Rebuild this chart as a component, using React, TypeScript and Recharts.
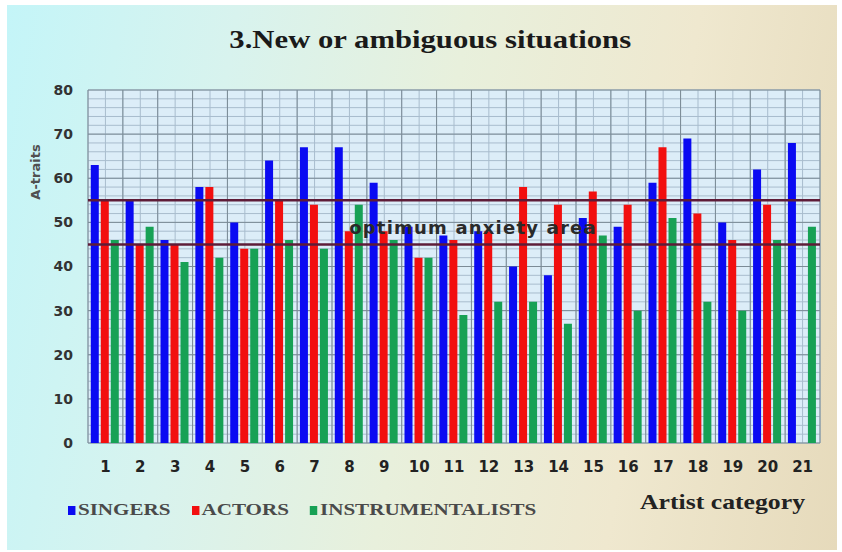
import React from 'react';
import { BarChart, Bar, XAxis, YAxis, CartesianGrid, ReferenceLine, Legend } from 'recharts';

const categories = ['1','2','3','4','5','6','7','8','9','10','11','12','13','14','15','16','17','18','19','20','21'];
const singers = [63, 55, 46, 58, 50, 64, 67, 67, 59, 49, 47, 48, 40, 38, 51, 49, 59, 69, 50, 62, 68];
const actors = [55, 45, 45, 58, 44, 55, 54, 48, 48, 42, 46, 48, 58, 54, 57, 54, 67, 52, 46, 54, null];
const instrumentalists = [46, 49, 41, 42, 44, 46, 44, 54, 46, 42, 29, 32, 32, 27, 47, 30, 51, 32, 30, 46, 49];
const yTicks = [0, 10, 20, 30, 40, 50, 60, 70, 80];
const yMax = 80;
const minorStep = 2;
const optimumLow = 45;
const optimumHigh = 55;
const title = '3.New or ambiguous situations';
const yLabel = 'A-traits';
const xLabel = 'Artist category';
const bandLabel = 'optimum anxiety area';
const seriesNames = ['SINGERS', 'ACTORS', 'INSTRUMENTALISTS'];
const seriesColors = ['#0a0af2', '#f20f0f', '#17a155'];

const data = categories.map((c, i) => ({
  category: c,
  [seriesNames[0]]: singers[i],
  [seriesNames[1]]: actors[i],
  [seriesNames[2]]: instrumentalists[i],
}));

const serif = '"Liberation Serif", "Times New Roman", serif';
const sans = '"DejaVu Sans", Verdana, sans-serif';

// grid line generators derived from the chart's plot offset
const minorHorizontal = (p: any) => {
  const { offset } = p;
  const n = yMax / minorStep;
  return Array.from({ length: n + 1 }, (_, i) => offset.top + (offset.height * i) / n);
};
const minorVertical = (p: any) => {
  const { offset } = p;
  const n = categories.length * 2;
  return Array.from({ length: n + 1 }, (_, i) => offset.left + (offset.width * i) / n);
};
const majorVertical = (p: any) => {
  const { offset } = p;
  const n = categories.length;
  return Array.from({ length: n + 1 }, (_, i) => offset.left + (offset.width * i) / n);
};

const renderLegend = (props: any) => {
  const payload = [...(props.payload || [])].sort(
    (a: any, b: any) => seriesNames.indexOf(a.value) - seriesNames.indexOf(b.value)
  );
  return (
    <div
      style={{
        display: 'flex',
        alignItems: 'center',
        fontFamily: serif,
        fontWeight: 'bold',
        fontSize: 17,
        color: '#4a4a4a',
        transform: 'scaleX(1.24)',
        transformOrigin: 'left center',
        whiteSpace: 'nowrap',
      }}
    >
      {payload.map((p: any) => (
        <div key={p.value} style={{ display: 'flex', alignItems: 'center', marginRight: 17 }}>
          <span style={{ display: 'inline-block', width: 6, height: 9, background: p.color, marginRight: 2 }} />
          <span>{p.value}</span>
        </div>
      ))}
    </div>
  );
};

export default function App() {
  return (
    <div
      style={{
        position: 'absolute',
        left: 0,
        top: 0,
        width: 842,
        height: 552,
        background: '#ffffff',
      }}
    >
      <div
        style={{
          position: 'absolute',
          left: 7,
          top: 5,
          width: 830,
          height: 545,
          background:
            'linear-gradient(100deg, #c4f5f8 0%, #d8f3ee 25%, #e8f0dc 50%, #efe8cf 75%, #e6dabb 100%)',
        }}
      />
      <div
        style={{
          position: 'absolute',
          left: 0,
          top: 25,
          width: 860,
          textAlign: 'center',
        }}
      >
        <span
          style={{
            display: 'inline-block',
            fontFamily: serif,
            fontWeight: 'bold',
            fontSize: 26,
            color: '#1a1a1a',
            transform: 'scaleX(1.18)',
          }}
        >
          {title}
        </span>
      </div>
      <div style={{ position: 'absolute', left: 0, top: 0 }}>
        <BarChart
          width={842}
          height={552}
          data={data}
          margin={{ top: 90, right: 22, bottom: 0, left: 0 }}
          barCategoryGap="8%"
          barGap={2}
        >
          <CartesianGrid
            yAxisId="main"
            stroke="#a8bccd"
            strokeWidth={1}
            fill="#dcedf8"
            fillOpacity={1}
            horizontalCoordinatesGenerator={minorHorizontal}
            verticalCoordinatesGenerator={minorVertical}
          />
          <CartesianGrid
            yAxisId="main"
            stroke="#7b8b96"
            strokeWidth={1}
            verticalCoordinatesGenerator={majorVertical}
          />
          <XAxis
            dataKey="category"
            height={109}
            axisLine={false}
            tickLine={false}
            tickMargin={12}
            interval={0}
            tick={{ fontFamily: sans, fontWeight: 'bold', fontSize: 15, fill: '#222' }}
            label={(p: any) => {
              const vb = p.viewBox;
              return (
                <text
                  x={vb.x + vb.width - 180}
                  y={vb.y + 66}
                  textLength={165}
                  lengthAdjust="spacingAndGlyphs"
                  fontFamily={serif}
                  fontWeight="bold"
                  fontSize={21}
                  fill="#222"
                >
                  {xLabel}
                </text>
              );
            }}
          />
          <YAxis
            yAxisId="main"
            domain={[0, yMax]}
            ticks={yTicks}
            width={88}
            axisLine={false}
            tickLine={false}
            tickMargin={9}
            tick={{ fontFamily: sans, fontWeight: 'bold', fontSize: 14, fill: '#333' }}
            label={(p: any) => {
              const vb = p.viewBox;
              const cx = vb.x + 35;
              const cy = vb.y + 82;
              return (
                <text
                  x={cx}
                  y={cy}
                  transform={`rotate(-90 ${cx} ${cy})`}
                  textAnchor="middle"
                  dominantBaseline="central"
                  fontFamily={sans}
                  fontWeight="bold"
                  fontSize={13}
                  fill="#505050"
                >
                  {yLabel}
                </text>
              );
            }}
          />
          <Bar yAxisId="main" dataKey={seriesNames[0]} fill={seriesColors[0]} isAnimationActive={false} />
          <Bar yAxisId="main" dataKey={seriesNames[1]} fill={seriesColors[1]} isAnimationActive={false} />
          <Bar yAxisId="main" dataKey={seriesNames[2]} fill={seriesColors[2]} isAnimationActive={false} />
          <ReferenceLine yAxisId="main" y={optimumHigh} stroke="#5e1c38" strokeWidth={2.5} />
          <ReferenceLine
            yAxisId="main"
            y={optimumLow}
            stroke="#5e1c38"
            strokeWidth={2.5}
            label={(p: any) => {
              const vb = p.viewBox;
              return (
                <text
                  x={vb.x + vb.width / 2 + 19}
                  y={vb.y - 10}
                  textAnchor="middle"
                  fontFamily={sans}
                  fontWeight="bold"
                  fontSize={18}
                  letterSpacing={1.2}
                  fill="#2a2a2a"
                >
                  {bandLabel}
                </text>
              );
            }}
          />
          <Legend
            layout="horizontal"
            verticalAlign="middle"
            align="center"
            content={renderLegend}
            wrapperStyle={{ left: 68, top: 500, width: 600 }}
          />
        </BarChart>
      </div>
    </div>
  );
}
